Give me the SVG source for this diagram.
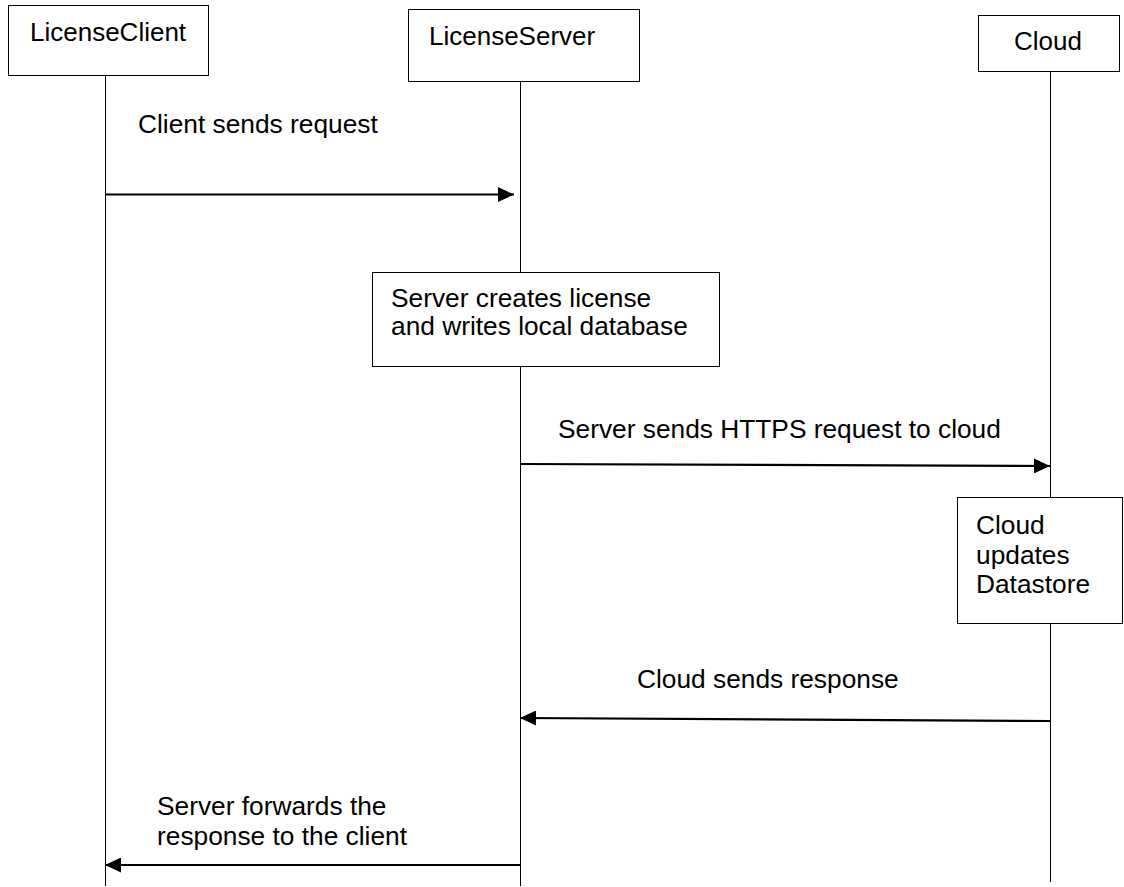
<svg xmlns="http://www.w3.org/2000/svg" width="1124" height="887" viewBox="0 0 1124 887">
  <style>
    .box { fill: #ffffff; stroke: #000000; stroke-width: 1; }
    .life { stroke: #000000; stroke-width: 1; fill: none; }
    .msg { stroke: #000000; stroke-width: 2.2; fill: none; marker-end: url(#arrow); }
    text { font-family: "Liberation Sans", Arial, sans-serif; font-size: 26.3px; fill: #000000; }
    .head { font-size: 26px; }
  </style>
  <defs>
    <marker id="arrow" markerUnits="userSpaceOnUse" markerWidth="17" markerHeight="15" refX="16" refY="7.5" orient="auto">
      <path d="M0,0 L16,7.5 L0,15 Z" fill="#000000"/>
    </marker>
  </defs>
  <rect width="1124" height="887" fill="#ffffff"/>

  <!-- lifelines -->
  <g id="lifelines">
    <line class="life" x1="105.5" y1="75" x2="105.5" y2="886"/>
    <line class="life" x1="520.5" y1="81" x2="520.5" y2="886"/>
    <line class="life" x1="1050.5" y1="71" x2="1050.5" y2="882"/>
  </g>

  <!-- participants -->
  <g id="client">
    <rect class="box" x="8.5" y="5.5" width="200" height="70"/>
    <text class="head" x="30" y="41">LicenseClient</text>
  </g>
  <g id="server">
    <rect class="box" x="408.5" y="9.5" width="231" height="72"/>
    <text class="head" x="429" y="45">LicenseServer</text>
  </g>
  <g id="cloud">
    <rect class="box" x="978.5" y="15.5" width="141" height="56"/>
    <text class="head" x="1014" y="50">Cloud</text>
  </g>

  <!-- activities -->
  <g id="server-create">
    <rect class="box" x="372.5" y="272.5" width="347" height="94"/>
    <text x="391" y="307">Server creates license</text>
    <text x="391" y="335">and writes local database</text>
  </g>
  <g id="cloud-update">
    <rect class="box" x="957.5" y="497.5" width="165" height="126"/>
    <text x="976" y="534">Cloud</text>
    <text x="976" y="563.5">updates</text>
    <text x="976" y="593">Datastore</text>
  </g>

  <!-- messages -->
  <g id="connectors">
    <line class="msg" x1="105" y1="194.5" x2="514" y2="194.5"/>
    <text x="138" y="133">Client sends request</text>

    <line class="msg" x1="520" y1="464" x2="1050" y2="466"/>
    <text x="558" y="438">Server sends HTTPS request to cloud</text>

    <line class="msg" x1="1050" y1="721" x2="520" y2="718"/>
    <text x="637" y="688">Cloud sends response</text>

    <line class="msg" x1="520" y1="865" x2="105" y2="865"/>
    <text x="157" y="815">Server forwards the</text>
    <text x="157" y="845">response to the client</text>
  </g>
</svg>
